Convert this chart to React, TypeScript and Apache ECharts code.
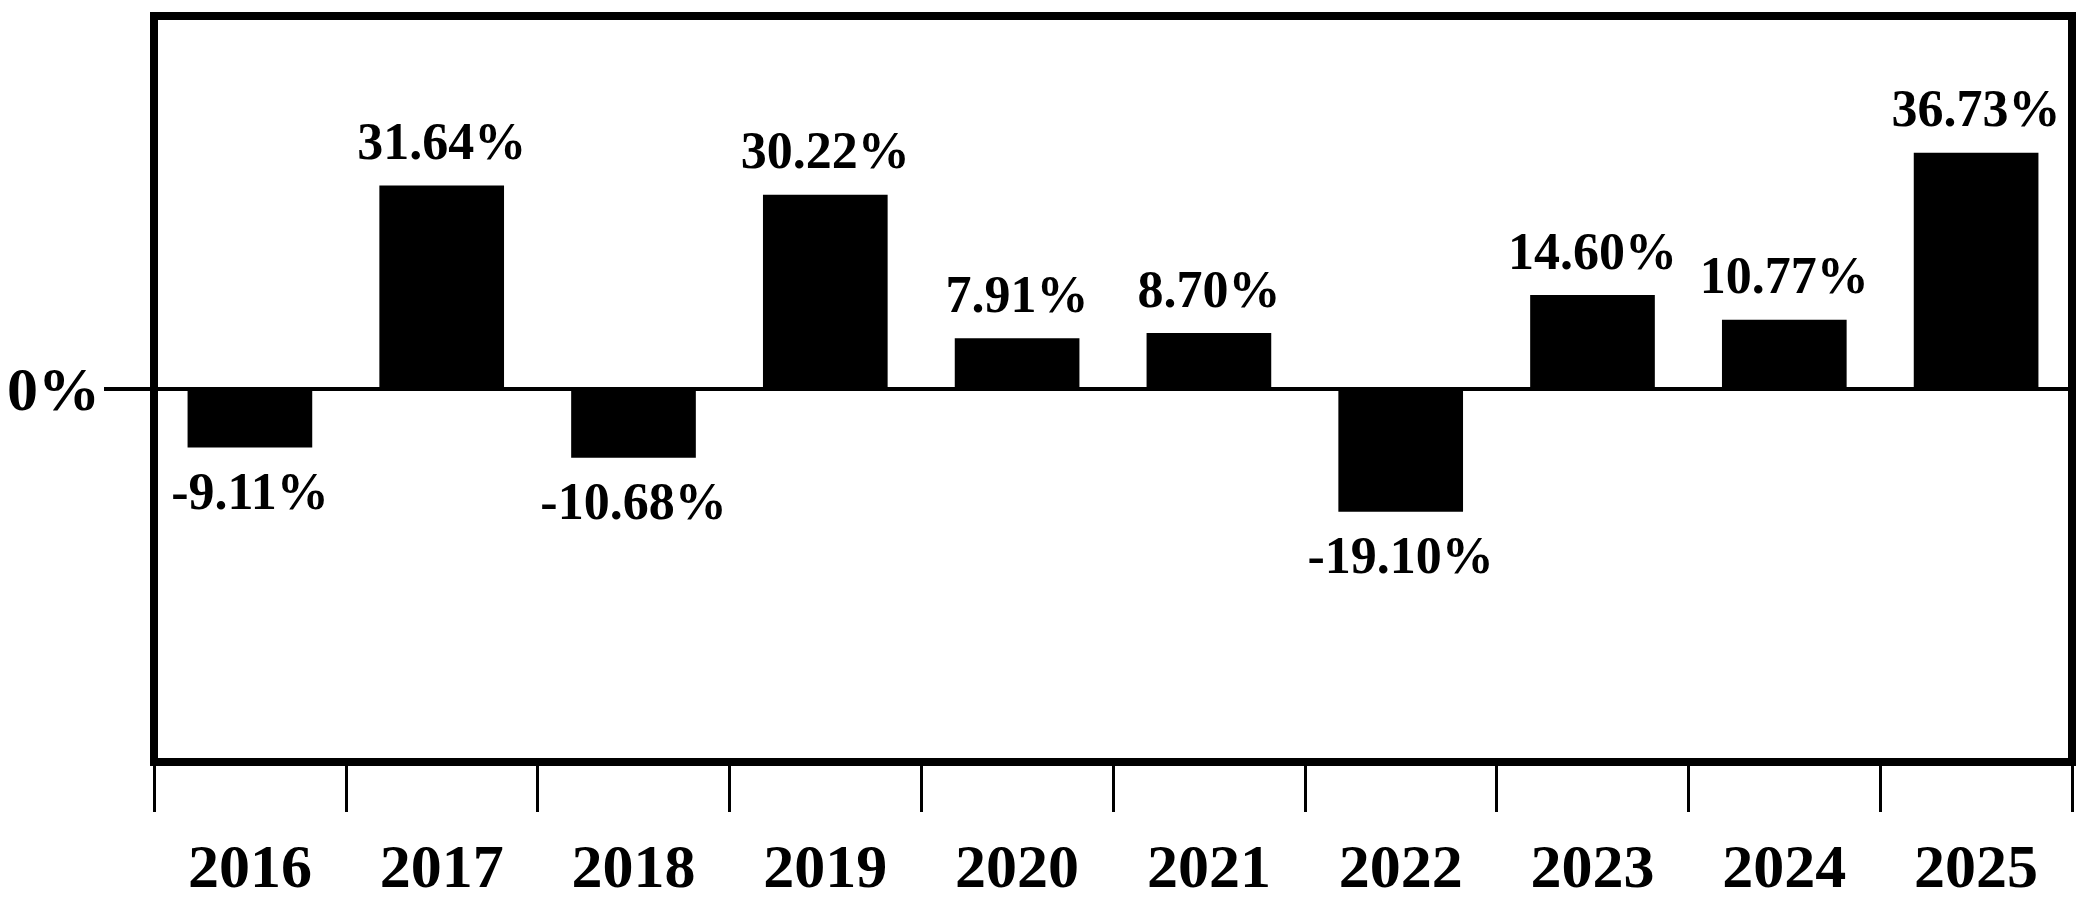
import React, { useEffect, useRef } from "react";
import * as echarts from "echarts";

const years = ["2016", "2017", "2018", "2019", "2020", "2021", "2022", "2023", "2024", "2025"];
const returns = [-9.11, 31.64, -10.68, 30.22, 7.91, 8.7, -19.1, 14.6, 10.77, 36.73];
const yMin = -58;
const yMax = 58;
const yTickValues = [0];

const FONT = "Liberation Serif";

export default function App() {
  const ref = useRef<HTMLDivElement>(null);

  useEffect(() => {
    if (!ref.current) return;
    const chart = echarts.init(ref.current, null, { renderer: "svg" });
    chart.setOption({
      animation: false,
      backgroundColor: "#fff",
      grid: {
        left: 154,
        right: 11,
        top: 16,
        bottom: 138,
        show: true,
        borderColor: "#000",
        borderWidth: 8,
        backgroundColor: "transparent",
        containLabel: false,
        outerBoundsMode: "none",
      },
      xAxis: {
        type: "category",
        data: years,
        boundaryGap: true,
        axisLine: { show: false, onZero: false },
        axisTick: {
          show: true,
          interval: 0,
          alignWithLabel: false,
          length: 50,
          lineStyle: { color: "#000", width: 3 },
        },
        axisLabel: {
          interval: 0,
          margin: 73,
          fontSize: 62,
          fontWeight: "bold",
          fontFamily: FONT,
          color: "#000",
        },
        splitLine: { show: false },
      },
      yAxis: {
        type: "value",
        min: yMin,
        max: yMax,
        interval: 58,
        axisLine: { show: false },
        axisTick: {
          show: true,
          customValues: yTickValues,
          length: 50,
          lineStyle: { color: "#000", width: 4 },
        },
        axisLabel: {
          customValues: yTickValues,
          margin: 54,
          fontSize: 62,
          fontWeight: "bold",
          fontFamily: FONT,
          color: "#000",
          formatter: (v: number) => (v === 0 ? "0%" : ""),
        },
        splitLine: { show: true, lineStyle: { color: "#000", width: 4 } },
      },
      series: [
        {
          type: "bar",
          barCategoryGap: "35%",
          itemStyle: { color: "#000" },
          data: returns.map((v) => ({
            value: v,
            label: { position: v < 0 ? "bottom" : "top" },
          })),
          label: {
            show: true,
            distance: 18,
            fontSize: 52,
            fontWeight: "bold",
            fontFamily: FONT,
            color: "#000",
            formatter: (p: any) => Number(p.value).toFixed(2) + "%",
          },
        },
      ],
    });
    return () => chart.dispose();
  }, []);

  return (
    <div
      ref={ref}
      style={{ position: "fixed", left: 0, top: 0, width: 2083, height: 900, background: "#fff" }}
    />
  );
}
